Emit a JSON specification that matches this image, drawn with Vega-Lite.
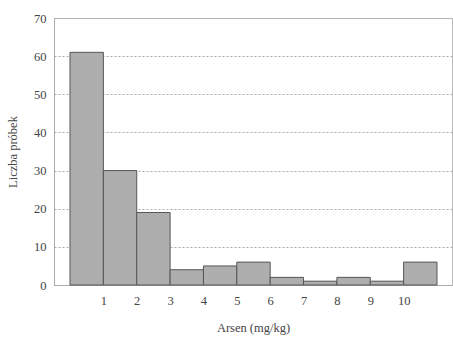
{
  "$schema": "https://vega.github.io/schema/vega-lite/v6.json",
  "autosize": {"type": "none"},
  "width": 398,
  "height": 267,
  "padding": {"left": 54, "top": 18, "right": 1, "bottom": 54},
  "background": "white",
  "config": {
    "font": "Liberation Serif",
    "view": {"stroke": "#bbbbbb", "strokeWidth": 1},
    "axis": {"labelFont": "Liberation Serif", "titleFont": "Liberation Serif", "labelColor": "#444444", "titleColor": "#444444", "titleFontWeight": "normal", "labelFontSize": 12.5, "titleFontSize": 12.5, "domainColor": "#aaaaaa", "tickColor": "#aaaaaa"}
  },
  "data": {"values": [
    {"lo": 0, "hi": 1, "count": 61},
    {"lo": 1, "hi": 2, "count": 30},
    {"lo": 2, "hi": 3, "count": 19},
    {"lo": 3, "hi": 4, "count": 4},
    {"lo": 4, "hi": 5, "count": 5},
    {"lo": 5, "hi": 6, "count": 6},
    {"lo": 6, "hi": 7, "count": 2},
    {"lo": 7, "hi": 8, "count": 1},
    {"lo": 8, "hi": 9, "count": 2},
    {"lo": 9, "hi": 10, "count": 1},
    {"lo": 10, "hi": 11, "count": 6}
  ]},
  "mark": {"type": "rect", "fill": "#aeaeae", "stroke": "#555555", "strokeWidth": 1},
  "encoding": {
    "x": {"field": "lo", "type": "quantitative", "scale": {"domain": [-0.48, 11.45], "nice": false, "zero": false},
      "axis": {"values": [1,2,3,4,5,6,7,8,9,10], "grid": false, "ticks": false, "labelPadding": 9, "title": "Arsen (mg/kg)", "titlePadding": 15}},
    "x2": {"field": "hi"},
    "y": {"field": "count", "type": "quantitative", "scale": {"domain": [0, 70], "nice": false},
      "axis": {"values": [0,10,20,30,40,50,60,70], "grid": true, "gridDash": [2,2], "gridColor": "#aaaaaa", "ticks": false, "labelPadding": 8, "title": "Liczba próbek", "titlePadding": 14}},
    "y2": {"datum": 0}
  }
}
